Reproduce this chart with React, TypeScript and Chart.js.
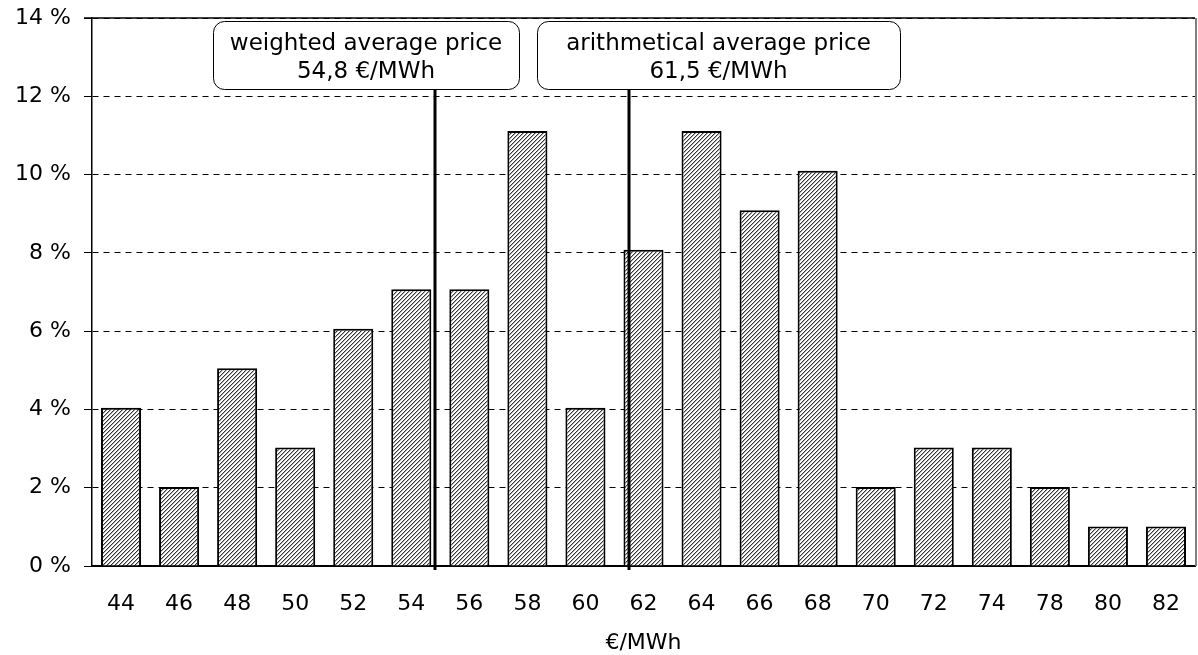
import React, { useEffect, useRef } from "react";
import { Chart, registerables } from "chart.js";

Chart.register(...registerables);

const categories = ["44", "46", "48", "50", "52", "54", "56", "58", "60", "62", "64", "66", "68", "70", "72", "74", "78", "80", "82"];
const shares = [4.04, 2.02, 5.05, 3.03, 6.06, 7.07, 7.07, 11.11, 4.04, 8.08, 11.11, 9.09, 10.1, 2.02, 3.03, 3.03, 2.02, 1.01, 1.01];
const yTicks = [0, 2, 4, 6, 8, 10, 12, 14];
const markerValues = [54.8, 61.5];
const markerTitles = ["weighted average price", "arithmetical average price"];
const markerTexts = ["54,8 €/MWh", "61,5 €/MWh"];
const axisTitle = "€/MWh";

const FONT = "'DejaVu Sans', Verdana, sans-serif";

function makePattern(): CanvasPattern | string {
  const c = document.createElement("canvas");
  c.width = 4;
  c.height = 4;
  const ctx = c.getContext("2d");
  if (!ctx) return "#888";
  const img = ctx.createImageData(4, 4);
  for (let y = 0; y < 4; y++) {
    for (let x = 0; x < 4; x++) {
      const k = (x + y) % 4;
      let v = 255;
      if (k === 3) v = 55;
      else if (k === 0) v = 175;
      const i = (y * 4 + x) * 4;
      img.data[i] = v;
      img.data[i + 1] = v;
      img.data[i + 2] = v;
      img.data[i + 3] = 255;
    }
  }
  ctx.putImageData(img, 0, 0);
  const p = ctx.createPattern(c, "repeat");
  return p || "#888";
}

function valueToIndex(v: number): number {
  const nums = categories.map(Number);
  for (let i = 0; i < nums.length - 1; i++) {
    if (v >= nums[i] && v <= nums[i + 1]) {
      return i + (v - nums[i]) / (nums[i + 1] - nums[i]);
    }
  }
  return 0;
}

function roundRect(ctx: CanvasRenderingContext2D, x: number, y: number, w: number, h: number, r: number) {
  ctx.beginPath();
  ctx.moveTo(x + r, y);
  ctx.lineTo(x + w - r, y);
  ctx.arcTo(x + w, y, x + w, y + r, r);
  ctx.lineTo(x + w, y + h - r);
  ctx.arcTo(x + w, y + h, x + w - r, y + h, r);
  ctx.lineTo(x + r, y + h);
  ctx.arcTo(x, y + h, x, y + h - r, r);
  ctx.lineTo(x, y + r);
  ctx.arcTo(x, y, x + r, y, r);
  ctx.closePath();
}

// box placement (pixel offsets relative to chart area)
const boxLayout = [
  { left: 121, width: 306 },
  { left: 445, width: 363 },
];

const overlayPlugin = {
  id: "overlay",
  afterDraw(chart: any) {
    const ctx: CanvasRenderingContext2D = chart.ctx;
    const area = chart.chartArea;
    const xs = chart.scales.x;
    ctx.save();
    // top frame line (solid)
    ctx.strokeStyle = "#000";
    ctx.lineWidth = 1.5;
    ctx.beginPath();
    ctx.moveTo(area.left - 8, area.top);
    ctx.lineTo(area.right, area.top);
    ctx.stroke();
    // right frame line
    ctx.strokeStyle = "#808080";
    ctx.lineWidth = 2;
    ctx.beginPath();
    ctx.moveTo(area.right + 1, area.top);
    ctx.lineTo(area.right + 1, area.bottom);
    ctx.stroke();

    const boxTop = area.top + 3;
    const boxH = 68;
    markerValues.forEach((v, i) => {
      const px = Math.round(xs.getPixelForValue(valueToIndex(v)));
      ctx.strokeStyle = "#000";
      ctx.lineWidth = 3;
      ctx.beginPath();
      ctx.moveTo(px, boxTop + boxH);
      ctx.lineTo(px, area.bottom + 4);
      ctx.stroke();

      const b = boxLayout[i];
      const bx = area.left + b.left;
      roundRect(ctx, bx + 0.5, boxTop + 0.5, b.width, boxH, 11);
      ctx.fillStyle = "#fff";
      ctx.fill();
      ctx.lineWidth = 1;
      ctx.strokeStyle = "#000";
      ctx.stroke();
      ctx.fillStyle = "#000";
      ctx.font = `23px ${FONT}`;
      ctx.textAlign = "center";
      ctx.textBaseline = "middle";
      ctx.fillText(markerTitles[i], bx + b.width / 2, boxTop + 23);
      ctx.fillText(markerTexts[i], bx + b.width / 2, boxTop + 51);
    });

    ctx.font = `22px ${FONT}`;
    ctx.textAlign = "center";
    ctx.textBaseline = "middle";
    ctx.fillStyle = "#000";
    ctx.fillText(axisTitle, (area.left + area.right) / 2, 643);
    ctx.restore();
  },
};

export default function App() {
  const ref = useRef<HTMLCanvasElement>(null);
  useEffect(() => {
    document.body.style.margin = "0";
    const canvas = ref.current;
    if (!canvas) return;
    const pattern = makePattern();
    const chart = new Chart(canvas, {
      type: "bar",
      data: {
        labels: categories,
        datasets: [
          {
            data: shares,
            backgroundColor: pattern as any,
            borderColor: "#000",
            borderWidth: 2,
            barPercentage: 0.69,
            categoryPercentage: 1,
          },
        ],
      },
      options: {
        responsive: false,
        animation: false,
        devicePixelRatio: 1,
        layout: { padding: { top: 18, right: 3, left: 0, bottom: 0 } },
        plugins: {
          legend: { display: false },
          tooltip: { enabled: false },
          title: { display: false },
        },
        scales: {
          x: {
            type: "category",
            grid: { display: false, drawTicks: false },
            border: { display: true, color: "#000", width: 2 },
            ticks: {
              color: "#000",
              font: { family: FONT, size: 22 },
              padding: 25,
              maxRotation: 0,
              autoSkip: false,
            },
            afterFit(scale: any) {
              scale.height = 89;
              scale.paddingLeft = 0;
              scale.paddingRight = 0;
            },
          },
          y: {
            min: 0,
            max: 14,
            afterBuildTicks(scale: any) {
              scale.ticks = yTicks.map((v) => ({ value: v }));
            },
            grid: {
              color: "#000",
              lineWidth: 1,
              tickLength: 8,
              tickColor: "#000",
              tickBorderDash: [],
            },
            border: { display: true, color: "#000", width: 1.5, dash: [6, 5] },
            ticks: {
              color: "#000",
              font: { family: FONT, size: 22 },
              padding: 13,
              callback: (v: any) => `${v} %`,
            },
            afterFit(scale: any) {
              scale.width = 92;
              scale.paddingTop = 0;
              scale.paddingBottom = 0;
            },
          },
        },
      },
      plugins: [overlayPlugin],
    });
    return () => chart.destroy();
  }, []);
  return <canvas ref={ref} width={1198} height={655} style={{ display: "block" }} />;
}
